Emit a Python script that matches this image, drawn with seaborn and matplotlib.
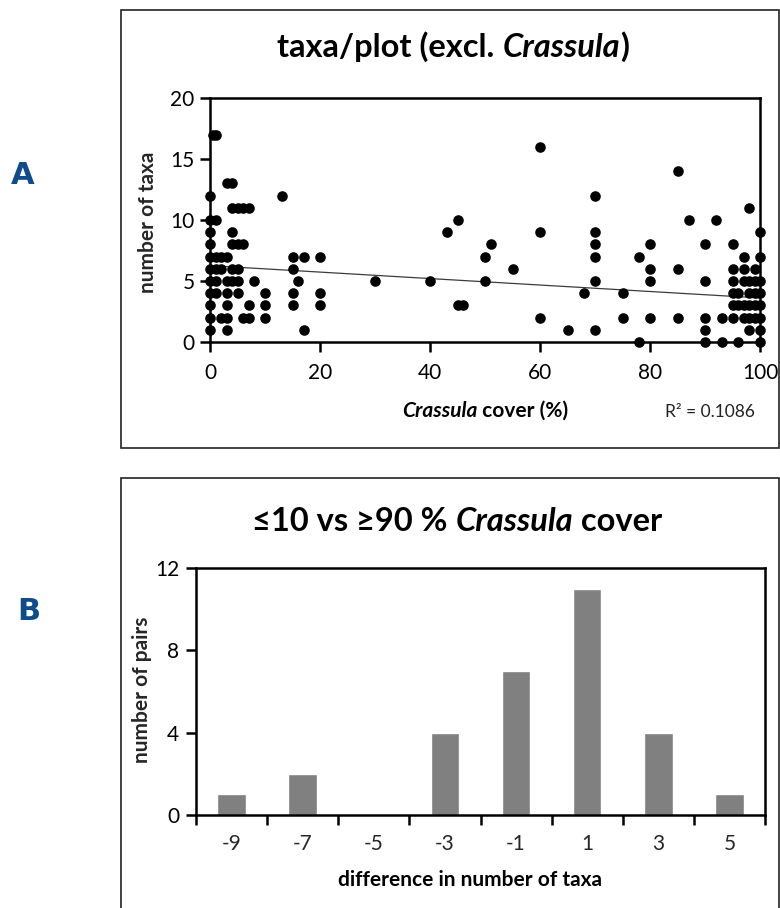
import numpy as np
import pandas as pd
import seaborn as sns
import matplotlib.pyplot as plt
from matplotlib.patches import Rectangle
from matplotlib.transforms import IdentityTransform

# Panel A: Crassula cover (%) and number of other taxa per plot
cover = [0.5, 1,
         60,
         85,
         3, 4,
         0, 13, 70,
         4, 5, 6, 7, 98,
         0, 1, 45, 87, 92,
         0, 4, 43, 60, 70, 100,
         0, 4, 5, 6, 51, 70, 80, 90, 95,
         0, 1, 2, 3, 15, 17, 20, 50, 70, 78, 97, 100,
         0, 1, 2, 4, 5, 15, 55, 80, 85, 95, 97, 99,
         0, 1, 3, 4, 5, 8, 16, 30, 40, 50, 70, 80, 90, 95, 97, 98, 99, 100,
         0, 1, 3, 5, 10, 15, 20, 68, 75, 95, 96, 98, 99, 100,
         0, 3, 7, 10, 15, 20, 45, 46, 95, 96, 97, 98, 99, 100,
         0, 2, 3, 6, 7, 10, 60, 75, 80, 85, 90, 93, 95, 97, 98, 99, 100,
         0, 3, 17, 65, 70, 90, 98, 100,
         78, 90, 93, 96, 100]
taxa = ([17] * 2 + [16] + [14] + [13] * 2 + [12] * 3 + [11] * 5 + [10] * 5 +
        [9] * 6 + [8] * 9 + [7] * 12 + [6] * 12 + [5] * 18 + [4] * 14 +
        [3] * 14 + [2] * 17 + [1] * 8 + [0] * 5)

# linear trend (all plots, many of which overlap): intercept and slope
trend_intercept = 6.26
trend_slope = -0.0265
r_squared = "0.1086"

# Panel B: paired differences in number of taxa
diff_labels = ["-9", "-7", "-5", "-3", "-1", "1", "3", "5"]
n_pairs = [1, 2, 0, 4, 7, 11, 4, 1]

sns.set_theme(style="white")
plt.rcParams["font.family"] = ["Lato", "DejaVu Sans"]

W, H = 780, 908
fig = plt.figure(figsize=(W / 100, H / 100), dpi=100)
fig.patch.set_facecolor("white")


def frac_box(left, top, right, bottom):
    return [left / W, 1 - bottom / H, (right - left) / W, (bottom - top) / H]


def rich(parts, cx, base_y, size):
    """Draw mixed-style text centred at pixel cx, baseline at pixel base_y from top."""
    r = fig.canvas.get_renderer()
    widths = []
    for s, it, bf in parts:
        kw = dict(fontsize=size, fontstyle="italic" if it else "normal",
                  fontweight="bold" if bf else "normal")
        a = fig.text(0, 0, "|" + s + "|", **kw)
        b = fig.text(0, 0, "||", **kw)
        widths.append(a.get_window_extent(r).width - b.get_window_extent(r).width)
        a.remove()
        b.remove()
    x = cx - sum(widths) / 2
    y = H - base_y
    for (s, it, bf), w in zip(parts, widths):
        fig.text(x, y, s, fontsize=size, fontstyle="italic" if it else "normal",
                 fontweight="bold" if bf else "normal", transform=IdentityTransform(),
                 ha="left", va="baseline", color="black")
        x += w


# panel frames
fig.patches.append(Rectangle((120.5, H - 448), 658, 438, transform=IdentityTransform(),
                             fill=False, edgecolor="#222222", linewidth=1.2))
fig.patches.append(Rectangle((120.5, -5), 658, H - 478 + 5, transform=IdentityTransform(),
                             fill=False, edgecolor="#222222", linewidth=1.2))

# ---- Panel A: scatter with linear trend ----
ax1 = fig.add_axes(frac_box(210, 98, 760, 342))
df = pd.DataFrame({"cover": cover, "taxa": taxa})
sns.scatterplot(data=df, x="cover", y="taxa", ax=ax1, s=58, color="black",
                linewidth=0, clip_on=False, zorder=3)
trend = pd.DataFrame({"cover": [0, 100]})
trend["taxa"] = trend_intercept + trend_slope * trend["cover"]
sns.lineplot(data=trend, x="cover", y="taxa", ax=ax1, color="#3c3c3c", lw=0.9, zorder=2)
ax1.set_xlim(0, 100)
ax1.set_ylim(0, 20)
ax1.set_xticks([0, 20, 40, 60, 80, 100])
ax1.set_yticks([0, 5, 10, 15, 20])
ax1.set_xlabel("")
ax1.set_ylabel("")

# ---- Panel B: histogram of differences ----
ax2 = fig.add_axes(frac_box(196, 568, 765, 815))
dfb = pd.DataFrame({"diff": diff_labels, "pairs": n_pairs})
sns.barplot(data=dfb, x="diff", y="pairs", order=diff_labels, ax=ax2,
            color="#808080", saturation=1, width=0.4)
ax2.set_xlim(-0.5, 7.5)
ax2.set_ylim(0, 12)
ax2.set_yticks([0, 4, 8, 12])
ax2.set_xticks(np.arange(-0.5, 8, 1), labels=[""] * 9)
ax2.set_xticks(range(8), labels=diff_labels, minor=True)
ax2.tick_params(axis="x", which="minor", length=0, pad=14, labelsize=15)
ax2.set_xlabel("")
ax2.set_ylabel("")

for ax in (ax1, ax2):
    ax.set_facecolor("white")
    for sp in ax.spines.values():
        sp.set_visible(True)
        sp.set_color("black")
        sp.set_linewidth(1.8)
    ax.tick_params(axis="both", which="major", direction="out", length=7, width=1.8,
                   colors="black", labelsize=15, bottom=True, left=True)
    ax.grid(False)
ax1.tick_params(axis="x", pad=8)
ax1.tick_params(axis="y", pad=4)
ax2.tick_params(axis="y", pad=5)

# titles and axis labels
rich([("taxa/plot (excl. ", False, True), ("Crassula", True, True), (")", False, True)],
     453, 57, 23.5)
rich([("\u226410 vs \u226590 % ", False, True), ("Crassula", True, True), (" cover", False, True)],
     457, 531, 23.5)
rich([("Crassula", True, True), (" cover (%)", False, True)], 485, 417, 15)
fig.text(710 / W, 1 - 412 / H, "R\u00b2 = " + r_squared, fontsize=12.5, ha="center",
         va="center", color="#222222")
fig.text(148 / W, 1 - 222 / H, "number of taxa", fontsize=15, fontweight="bold",
         rotation=90, ha="center", va="center")
fig.text(142 / W, 1 - 690 / H, "number of pairs", fontsize=15, fontweight="bold",
         rotation=90, ha="center", va="center")
rich([("difference in number of taxa", False, True)], 470, 886, 15)

# panel letters
fig.text(23 / W, 1 - 175 / H, "A", fontsize=22, fontweight="bold", color="#0f4c8c",
         family="DejaVu Sans", ha="center", va="center")
fig.text(29 / W, 1 - 612 / H, "B", fontsize=22, fontweight="bold", color="#0f4c8c",
         family="DejaVu Sans", ha="center", va="center")

fig.savefig("out.png", dpi=100, facecolor="white")
